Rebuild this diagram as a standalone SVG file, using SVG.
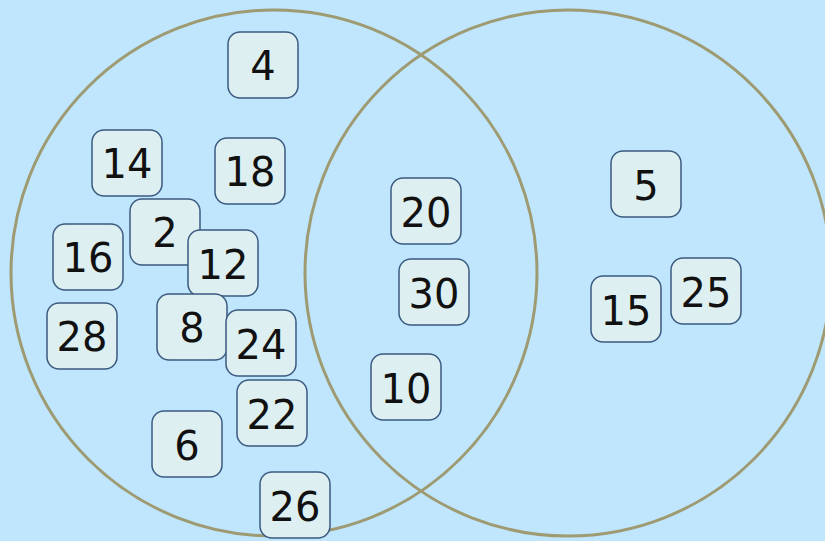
<svg xmlns="http://www.w3.org/2000/svg" width="825" height="541" viewBox="0 0 825 541">
<style>
.bg{fill:#bfe6fd}
.set{fill:none;stroke:#9e9a72;stroke-width:3}
.n rect{fill:#ddeff0;stroke:#3a5a80;stroke-width:1.5}
.n text{font-family:"DejaVu Sans",Verdana,sans-serif;font-size:40px;fill:#111;text-anchor:middle}
</style>
<rect class="bg" x="0" y="0" width="825" height="541"/>
<g id="sets">
<circle class="set" cx="274" cy="273" r="263"/>
<circle class="set" cx="568" cy="273" r="263"/>
</g>
<g id="connectors"></g>
<g id="n4" class="n"><rect x="228" y="32" width="70" height="66" rx="12"/><text x="263" y="80">4</text></g>
<g id="n14" class="n"><rect x="92" y="130" width="70" height="66" rx="12"/><text x="127" y="178">14</text></g>
<g id="n18" class="n"><rect x="215" y="138" width="70" height="66" rx="12"/><text x="250" y="186">18</text></g>
<g id="n16" class="n"><rect x="53" y="224" width="70" height="66" rx="12"/><text x="88" y="272">16</text></g>
<g id="n2" class="n"><rect x="130" y="199" width="70" height="66" rx="12"/><text x="165" y="247">2</text></g>
<g id="n12" class="n"><rect x="188" y="230" width="70" height="66" rx="12"/><text x="223" y="279">12</text></g>
<g id="n28" class="n"><rect x="47" y="303" width="70" height="66" rx="12"/><text x="82" y="351">28</text></g>
<g id="n8" class="n"><rect x="157" y="294" width="70" height="66" rx="12"/><text x="192" y="342">8</text></g>
<g id="n24" class="n"><rect x="226" y="310" width="70" height="66" rx="12"/><text x="261" y="359">24</text></g>
<g id="n22" class="n"><rect x="237" y="380" width="70" height="66" rx="12"/><text x="272" y="429">22</text></g>
<g id="n6" class="n"><rect x="152" y="411" width="70" height="66" rx="12"/><text x="187" y="460">6</text></g>
<g id="n26" class="n"><rect x="260" y="472" width="70" height="66" rx="12"/><text x="295" y="521">26</text></g>
<g id="n20" class="n"><rect x="391" y="178" width="70" height="66" rx="12"/><text x="426" y="227">20</text></g>
<g id="n30" class="n"><rect x="399" y="259" width="70" height="66" rx="12"/><text x="434" y="308">30</text></g>
<g id="n10" class="n"><rect x="371" y="354" width="70" height="66" rx="12"/><text x="406" y="403">10</text></g>
<g id="n5" class="n"><rect x="611" y="151" width="70" height="66" rx="12"/><text x="646" y="200">5</text></g>
<g id="n15" class="n"><rect x="591" y="276" width="70" height="66" rx="12"/><text x="626" y="325">15</text></g>
<g id="n25" class="n"><rect x="671" y="258" width="70" height="66" rx="12"/><text x="706" y="307">25</text></g>
</svg>
